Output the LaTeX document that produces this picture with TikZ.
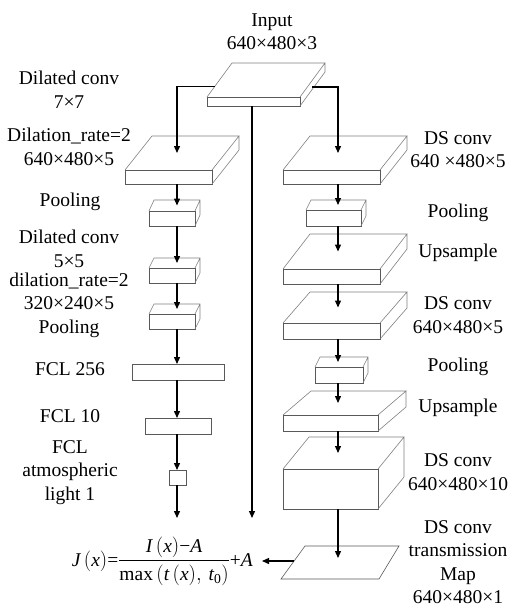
\documentclass[tikz,border=0pt]{standalone}
\usepackage{fontspec}
\setmainfont{Liberation Serif}
\usepackage{amsmath}
\usetikzlibrary{arrows.meta, calc}

% one layer: name, front x1, y1, x2, y2, depth dx, dy
\newcommand{\layer}[7]{%
  \node[face, anchor=north west, minimum width={(#4-#2)*1pt}, minimum height={(#5-#3)*1pt}] (#1) at (#2,#3) {};
  \draw[side] (#1.north west) -- ++(#6,-#7) coordinate (#1-bl) -- ++({#4-#2},0) coordinate (#1-br) -- (#1.north east)
    (#1-br) -- ++(0,{#5-#3}) -- (#1.south east);
  \coordinate (#1-t) at ($(#1.north)+({0.5*#6},{-0.5*#7})$);
}

\begin{document}
\begin{tikzpicture}[x=1pt, y=-1pt,
    face/.style={draw=black!65, line width=0.7pt, fill=white, inner sep=0pt, outer sep=0pt},
    side/.style={draw=black!50, line width=0.6pt},
    arr/.style={-{Triangle[length=7pt, width=6pt]}, line width=1.3pt},
    lbl/.style={font=\fontsize{19.5}{23.5}\selectfont, align=center, inner sep=0pt}]
\useasboundingbox (0,0) rectangle (512,608);

% columns
\coordinate (lcol) at (177,0);
\coordinate (mcol) at (252,0);
\coordinate (rcol) at (338,0);

% input
\layer{inp}{207}{97}{300}{106}{25}{34}
\node[lbl] (inplbl) at (272,31.5) {Input\\640×480×3};

% left branch
\layer{lc1}{125}{170}{212}{184}{27}{34}
\layer{lp1}{149}{211}{195}{226}{5}{11}
\layer{lc2}{149}{268}{195}{283}{5}{10}
\layer{lp2}{149}{314}{195}{329}{5}{10}
\node[face, minimum width=92pt, minimum height=16pt] (fc1) at (178,372) {};
\node[face, minimum width=66pt, minimum height=16pt] (fc2) at (178,426) {};
\node[face, minimum width=17pt, minimum height=15pt] (fc3) at (177.5,477.5) {};
\coordinate (lend) at (177,518);

% right branch
\layer{rc1}{283}{170}{380}{184}{27}{34}
\layer{rp1}{306}{210}{361}{226}{5}{10}
\layer{ru1}{283}{269}{380}{284}{27}{35}
\layer{rc2}{283}{323}{380}{339}{27}{31}
\layer{rp2}{315}{367}{363}{383}{5}{10}
\layer{ru2}{283}{415}{378}{431}{28}{24}
\layer{rc3}{283}{469}{378}{509}{26}{32}
\draw[side, draw=black!65] (281,579) -- (379,579) -- (399,546) -- (305,546) -- cycle;
\coordinate (tmap-t) at (338,558);
\coordinate (tmap-lft) at (294,561);
\coordinate (mend) at (252,518);

% labels
\node[lbl] (l1) at (69,89.5) {Dilated conv\\7×7};
\node[lbl] (l2) at (69,147) {Dilation\_rate=2\\640×480×5};
\node[lbl] (l3) at (70,202) {Pooling};
\node[lbl] (l4) at (69,249) {Dilated conv\\5×5};
\node[lbl] (l5) at (69,305) {dilation\_rate=2\\320×240×5\\Pooling};
\node[lbl] (l6) at (70,369) {FCL 256};
\node[lbl] (l7) at (70,416) {FCL 10};
\node[lbl] (l8) at (70,472.5) {FCL\\atmospheric\\light 1};
\node[lbl] (r1) at (458,149.5) {DS conv\\640 ×480×5};
\node[lbl] (r2) at (458,213) {Pooling};
\node[lbl] (r3) at (458,253) {Upsample};
\node[lbl] (r4) at (458,315) {DS conv\\640×480×5};
\node[lbl] (r5) at (458,367) {Pooling};
\node[lbl] (r6) at (458,408) {Upsample};
\node[lbl] (r7) at (458,472) {DS conv\\640×480×10};
\node[lbl] (r8) at (458,562) {DS conv\\transmission\\Map\\640×480×1};

% formula
\node[lbl, anchor=east, inner xsep=9pt] (jx) at (262,561)
  {$\textit{J}\,(\textit{x})\text{=}\dfrac{\textit{I}\,(\textit{x})\text{−}\textit{A}}{\text{max}\,(\textit{t}\,(\textit{x}),\,\textit{t}_{\text{0}})}\text{+}\textit{A}$};

% connectors
\coordinate (inp-lft) at ($(inp.north west)!0.3!(inp-bl)$);
\coordinate (inp-rgt) at (312,87);
\draw[arr] (inp-lft) -| (lcol |- lc1-t);
\draw[arr] (inp-rgt) -| (rcol |- rc1-t);
\draw[arr] (mcol |- inp.south) -- (mend);

\draw[arr] (lcol |- lc1.south) -- (lcol |- lp1-t);
\draw[arr] (lcol |- lp1.south) -- (lcol |- lc2-t);
\draw[arr] (lcol |- lc2.south) -- (lcol |- lp2-t);
\draw[arr] (lcol |- lp2.south) -- (lcol |- fc1.north);
\draw[arr] (lcol |- fc1.south) -- (lcol |- fc2.north);
\draw[arr] (lcol |- fc2.south) -- (lcol |- fc3.north);
\draw[arr] (lcol |- fc3.south) -- (lend);

\draw[arr] (rcol |- rc1.south) -- (rcol |- rp1-t);
\draw[arr] (rcol |- rp1.south) -- (rcol |- ru1-t);
\draw[arr] (rcol |- ru1.south) -- (rcol |- rc2-t);
\draw[arr] (rcol |- rc2.south) -- (rcol |- rp2-t);
\draw[arr] (rcol |- rp2.south) -- (rcol |- ru2-t);
\draw[arr] (rcol |- ru2.south) -- (rcol |- rc3-t);
\draw[arr] (rcol |- rc3.south) -- (tmap-t);
\draw[arr] (tmap-lft) -- (tmap-lft -| jx.east);
\end{tikzpicture}
\end{document}
